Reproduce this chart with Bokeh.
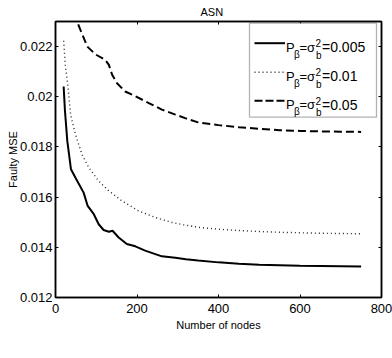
from bokeh.plotting import figure
from bokeh.models import (Range1d, FixedTicker, LinearAxis, BoxAnnotation, Label,
                          CustomJSTickFormatter)
from bokeh.embed import file_html
from bokeh.resources import INLINE

# ---- data ----
nodes_005 = [20, 23, 29, 38, 49, 69, 79, 94, 106, 118, 131, 140, 155, 175, 196, 220, 245, 261, 294, 320,
             350, 400, 450, 500, 550, 600, 650, 700, 750]
mse_005 = [0.02041, 0.01949, 0.01823, 0.01711, 0.01677, 0.01618, 0.01565, 0.01532, 0.01492, 0.01469,
           0.01462, 0.01466, 0.01439, 0.01413, 0.01404, 0.01387, 0.01373, 0.01364, 0.01358, 0.01352,
           0.01347, 0.01340, 0.01335, 0.01331, 0.01329, 0.01327, 0.01326, 0.01325, 0.01324]

nodes_01 = [20, 24, 31, 37, 49, 65, 82, 106, 131, 163, 204, 245, 286, 314, 350, 400, 450, 500, 550,
            600, 650, 700, 750]
mse_01 = [0.02223, 0.02127, 0.02035, 0.01929, 0.01850, 0.01770, 0.01717, 0.01664, 0.01625, 0.01585,
          0.01545, 0.01519, 0.01499, 0.01490, 0.01480, 0.01472, 0.01467, 0.01463, 0.01460, 0.01458,
          0.01456, 0.01455, 0.01454]

nodes_05 = [20, 35, 53, 78, 98, 122, 131, 139, 151, 171, 196, 229, 261, 294, 318, 350, 400, 450, 500,
            550, 600, 650, 700, 750]
mse_05 = [0.0252, 0.0240, 0.02299, 0.02200, 0.02169, 0.02147, 0.02127, 0.02088, 0.02054, 0.02021,
          0.02002, 0.01975, 0.01949, 0.01929, 0.01915, 0.01898, 0.01887, 0.01879, 0.01872, 0.01867,
          0.01864, 0.01862, 0.01861, 0.01860]

series_values = ["0.005", "0.01", "0.05"]
x_ticks = [0, 200, 400, 600, 800]
y_ticks = [0.012, 0.014, 0.016, 0.018, 0.020, 0.022]
title_text = "ASN"
x_label = "Number of nodes"
y_label = "Faulty MSE"

XMIN, XMAX = 0, 800
YMIN, YMAX = 0.012, 0.023

# ---- layout (pixel geometry) ----
W, H = 392, 358
ML, MR, MT, MB = 55, 11, 21, 61
FX0, FY0 = ML, MT
FW, FH = W - ML - MR, H - MT - MB

def dx(px):
    return XMIN + (px - FX0) / FW * (XMAX - XMIN)

def dy(py):
    return YMAX - (py - FY0) / FH * (YMAX - YMIN)

FONT = "Liberation Sans"

p = figure(width=W, height=H, output_backend="svg", toolbar_location=None,
           x_range=Range1d(XMIN, XMAX), y_range=Range1d(YMIN, YMAX),
           min_border_left=ML, min_border_right=MR, min_border_top=MT, min_border_bottom=MB)
p.grid.visible = False
p.outline_line_color = "black"
p.outline_line_width = 1.5
p.background_fill_color = "white"
p.border_fill_color = "white"

# title
p.title.text = title_text
p.title.text_font = FONT
p.title.text_font_size = "11px"
p.title.text_font_style = "normal"
p.title.text_color = "black"
p.title.align = "left"
p.title.offset = 145
p.title.standoff = 7

def style_axis(ax, ticks, labelled, standoff=3):
    ax.axis_line_color = "black"
    ax.axis_line_width = 1.5
    if labelled:
        ax.ticker = FixedTicker(ticks=ticks)
        ax.major_tick_in = 3
        ax.major_tick_out = 0
        ax.major_tick_line_width = 1
        ax.major_tick_line_color = "black"
        ax.minor_tick_line_color = None
        ax.major_label_text_font = FONT
        ax.major_label_text_font_size = "13px"
        ax.major_label_text_color = "black"
        ax.major_label_standoff = standoff
    else:
        ax.ticker = FixedTicker(ticks=[], minor_ticks=ticks)
        ax.minor_tick_in = 3
        ax.minor_tick_out = 0
        ax.minor_tick_line_width = 1
        ax.minor_tick_line_color = "black"
        ax.major_tick_line_color = None
        ax.major_label_standoff = 0
    ax.axis_label_text_font = FONT
    ax.axis_label_text_font_size = "11px"
    ax.axis_label_text_font_style = "normal"
    ax.axis_label_text_color = "black"

style_axis(p.xaxis[0], x_ticks, True, standoff=6)
style_axis(p.yaxis[0], y_ticks, True, standoff=3)
p.yaxis[0].formatter = CustomJSTickFormatter(code="return Number(tick.toFixed(3)).toString();")
p.xaxis[0].axis_label = x_label
p.xaxis[0].axis_label_standoff = 3
p.yaxis[0].axis_label = y_label
p.yaxis[0].axis_label_standoff = -2

top_ax = LinearAxis()
style_axis(top_ax, x_ticks, False)
p.add_layout(top_ax, "above")
right_ax = LinearAxis()
style_axis(right_ax, y_ticks, False)
p.add_layout(right_ax, "right")

DOT = "1 3"
DASH = "8 4"

# ---- curves ----
p.line(nodes_005, mse_005, line_color="black", line_width=2)
p.line(nodes_01, mse_01, line_color="#222222", line_width=1.4, line_dash=DOT)
p.line(nodes_05, mse_05, line_color="black", line_width=2, line_dash=DASH)

# ---- legend (manual, for sub/superscripts) ----
box = BoxAnnotation(left=dx(249), right=dx(376), top=dy(22.7), bottom=dy(116.7),
                    fill_color="white", fill_alpha=1.0, line_color="black", line_width=1.3,
                    level="annotation")
p.add_layout(box)

rows_line_y = [42.7, 71.7, 100.3]
rows_base_y = [46.7, 75.5, 104.2]
styles = [dict(line_color="black", line_width=2),
          dict(line_color="#222222", line_width=1.4, line_dash=DOT),
          dict(line_color="black", line_width=2, line_dash="8 3")]
for yl, base, st, val in zip(rows_line_y, rows_base_y, styles, series_values):
    r = p.line([dx(254), dx(284.5)], [dy(yl), dy(yl)], **st)
    r.level = "overlay"
    pieces = [("P", 285.5, 0, "13px"),
              ("β", 293.5, 7, "10px"),
              ("=σ", 299, 0, "13px"),
              ("2", 315, -4, "10px"),
              ("b", 315.5, 8, "10px"),
              ("=" + val, 321.5, 0, "14px")]
    for txt, px, oy, fs in pieces:
        lab = Label(x=dx(px), y=dy(base + oy), text=txt, text_font=FONT, text_font_size=fs,
                    text_align="left", text_baseline="alphabetic", text_color="black")
        lab.level = "overlay"
        p.add_layout(lab)

open("out.html", "w").write(file_html(p, INLINE))
